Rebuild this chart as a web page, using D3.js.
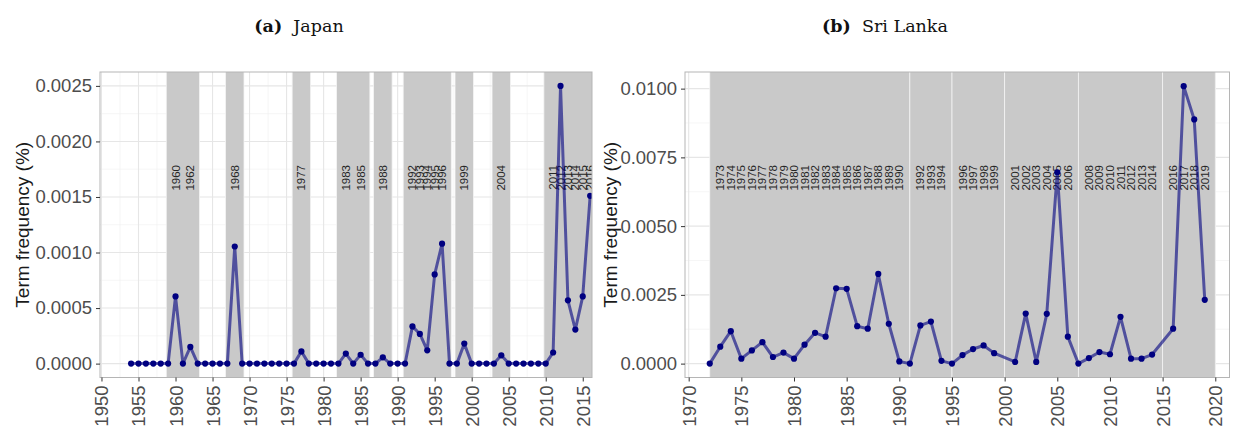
<!DOCTYPE html>
<html>
<head>
<meta charset="utf-8">
<script src="https://cdn.jsdelivr.net/npm/d3@7"></script>
<style>
  body { margin: 0; background: #fff; }
  svg { display: block; }
</style>
</head>
<body>
<div id="chart"></div>
<script>
// Japan
var japanYears = d3.range(1954, 2017);
var japanValues = [
  0, 0, 0, 0, 0, 0, 0.000605, 0, 0.00015, 0,
  0, 0, 0, 0, 0.001054, 0, 0, 0, 0, 0,
  0, 0, 0, 0.00011, 0, 0, 0, 0, 0, 0.00009,
  0, 0.00008, 0, 0, 0.000057, 0, 0, 0, 0.000335, 0.000267,
  0.00012, 0.000803, 0.00108, 0, 0, 0.00018, 0, 0, 0, 0,
  0.000075, 0, 0, 0, 0, 0, 0, 0.0001, 0.0025, 0.00057,
  0.000306, 0.000605, 0.00151
];
var japanEvents = [1960, 1962, 1968, 1977, 1983, 1985, 1988, 1992, 1993, 1994, 1995, 1996,
                   1999, 2004, 2011, 2012, 2013, 2014, 2015, 2016];
var japanXTicks = d3.range(1950, 2016, 5);
var japanYTicks = [0, 0.0005, 0.001, 0.0015, 0.002, 0.0025];

// Sri Lanka (no points for 2000 and 2015)
var lankaYears = [1972, 1973, 1974, 1975, 1976, 1977, 1978, 1979, 1980, 1981, 1982, 1983,
                  1984, 1985, 1986, 1987, 1988, 1989, 1990, 1991, 1992, 1993, 1994, 1995,
                  1996, 1997, 1998, 1999, 2001, 2002, 2003, 2004, 2005, 2006, 2007, 2008,
                  2009, 2010, 2011, 2012, 2013, 2014, 2016, 2017, 2018, 2019];
var lankaValues = [0, 0.000616, 0.00118, 0.00018, 0.00048, 0.00078, 0.00024, 0.0004, 0.00018, 0.00069,
                   0.00112, 0.00098, 0.00274, 0.00272, 0.00136, 0.00127, 0.00326, 0.00145, 0.00008, 0,
                   0.00139, 0.00153, 0.0001, 0, 0.00031, 0.00053, 0.00066, 0.00038, 0.00006, 0.00182,
                   0.00006, 0.00181, 0.00696, 0.00098, 0, 0.0002, 0.00042, 0.00034, 0.0017, 0.00018,
                   0.00018, 0.00033, 0.00127, 0.01009, 0.00888, 0.00232];
var lankaEvents = d3.range(1973, 1991).concat([1992, 1993, 1994, 1996, 1997, 1998, 1999,
                   2001, 2002, 2003, 2004, 2005, 2006, 2008, 2009, 2010, 2011, 2012, 2013, 2014,
                   2016, 2017, 2018, 2019]);
var lankaXTicks = d3.range(1970, 2021, 5);
var lankaYTicks = [0, 0.0025, 0.005, 0.0075, 0.01];

var W = 1243, H = 431;
var svg = d3.select("#chart").append("svg")
  .attr("width", W).attr("height", H)
  .style("font-family", "'Liberation Sans', Arial, sans-serif");

var panels = [
  {title: "(a)", name: "Japan", years: japanYears, values: japanValues, events: japanEvents,
   xTicks: japanXTicks, yTicks: japanYTicks, xDom: [1949.8, 2016.25], yDom: [-0.000125, 0.002625],
   pad: 1.25, x0: 100, x1: 592, y0: 72, y1: 377.5, titleX: 299, yTitleX: 22, fmt: d3.format(".4f")},
  {title: "(b)", name: "Sri Lanka", years: lankaYears, values: lankaValues, events: lankaEvents,
   xTicks: lankaXTicks, yTicks: lankaYTicks, xDom: [1969.65, 2021.35], yDom: [-0.000505, 0.010605],
   pad: 1, x0: 685, x1: 1229.5, y0: 72, y1: 377.5, titleX: 885, yTitleX: 610, fmt: d3.format(".4f")}
];

// merge overlapping event bands (touching ones stay separate)
function bandGroups(events, pad) {
  var out = [];
  events.slice().sort(d3.ascending).forEach(function(e) {
    var last = out[out.length - 1];
    if (last && e - pad < last[1]) last[1] = e + pad;
    else out.push([e - pad, e + pad]);
  });
  return out;
}

panels.forEach(function(p) {
  var x = d3.scaleLinear().domain(p.xDom).range([p.x0, p.x1]);
  var y = d3.scaleLinear().domain(p.yDom).range([p.y1, p.y0]);
  var g = svg.append("g");

  // title
  var t = g.append("text")
    .attr("x", p.titleX).attr("y", 32)
    .attr("text-anchor", "middle")
    .style("font-family", "'DejaVu Serif', serif")
    .style("font-size", "17.5px")
    .attr("fill", "#111");
  t.append("tspan").style("font-weight", "bold").text(p.title);
  t.append("tspan").text("\u00a0 " + p.name);

  var clipId = "clip-" + p.name.replace(" ", "");
  g.append("clipPath").attr("id", clipId)
    .append("rect")
    .attr("x", p.x0).attr("y", p.y0)
    .attr("width", p.x1 - p.x0).attr("height", p.y1 - p.y0);

  var inner = g.append("g").attr("clip-path", "url(#" + clipId + ")");

  // grid, minor then major
  var xMinor = p.xTicks.map(function(d) { return d + 2.5; }).concat([p.xTicks[0] - 2.5]);
  var yMinor = p.yTicks.map(function(d, i) { return i ? (d + p.yTicks[i - 1]) / 2 : null; })
                 .filter(function(d) { return d != null; });
  inner.selectAll(".xminor").data(xMinor).enter().append("line")
    .attr("x1", function(d) { return x(d); }).attr("x2", function(d) { return x(d); })
    .attr("y1", p.y0).attr("y2", p.y1)
    .attr("stroke", "#f0f0f0").attr("stroke-width", 0.6);
  inner.selectAll(".yminor").data(yMinor).enter().append("line")
    .attr("y1", function(d) { return y(d); }).attr("y2", function(d) { return y(d); })
    .attr("x1", p.x0).attr("x2", p.x1)
    .attr("stroke", "#f0f0f0").attr("stroke-width", 0.6);
  inner.selectAll(".xmajor").data(p.xTicks).enter().append("line")
    .attr("x1", function(d) { return x(d); }).attr("x2", function(d) { return x(d); })
    .attr("y1", p.y0).attr("y2", p.y1)
    .attr("stroke", "#e6e6e6").attr("stroke-width", 1.1);
  inner.selectAll(".ymajor").data(p.yTicks).enter().append("line")
    .attr("y1", function(d) { return y(d); }).attr("y2", function(d) { return y(d); })
    .attr("x1", p.x0).attr("x2", p.x1)
    .attr("stroke", "#e6e6e6").attr("stroke-width", 1.1);

  // event bands
  inner.selectAll(".band").data(bandGroups(p.events, p.pad)).enter().append("rect")
    .attr("x", function(d) { return x(d[0]); })
    .attr("width", function(d) { return x(d[1]) - x(d[0]); })
    .attr("y", p.y0 - 2).attr("height", p.y1 - p.y0 + 4)
    .attr("fill", "#c9c9c9")
    .attr("stroke", "#f4f4f4").attr("stroke-width", 0.8);

  // event labels
  inner.selectAll(".evlab").data(p.events).enter().append("text")
    .attr("transform", function(d) { return "translate(" + x(d) + "," + (p.y0 + 93) + ") rotate(-90)"; })
    .attr("dy", "0.35em")
    .attr("text-anchor", "end")
    .style("font-size", "11.5px")
    .attr("fill", "#262626")
    .text(function(d) { return d; });

  // line + points
  var pts = p.years.map(function(d, i) { return [d, p.values[i]]; });
  inner.append("path")
    .datum(pts)
    .attr("d", d3.line().x(function(d) { return x(d[0]); }).y(function(d) { return y(d[1]); }))
    .attr("fill", "none")
    .attr("stroke", "navy").attr("stroke-opacity", 0.6)
    .attr("stroke-width", 3)
    .attr("stroke-linejoin", "round");
  inner.selectAll(".pt").data(pts).enter().append("circle")
    .attr("cx", function(d) { return x(d[0]); })
    .attr("cy", function(d) { return y(d[1]); })
    .attr("r", 3.1)
    .attr("fill", "#000080");

  // border
  g.append("rect")
    .attr("x", p.x0).attr("y", p.y0)
    .attr("width", p.x1 - p.x0).attr("height", p.y1 - p.y0)
    .attr("fill", "none").attr("stroke", "#b5b5b5").attr("stroke-width", 1);

  // axes
  var xAxis = g.append("g")
    .attr("transform", "translate(0," + p.y1 + ")")
    .call(d3.axisBottom(x).tickValues(p.xTicks).tickSize(4).tickFormat(d3.format("d")));
  xAxis.select(".domain").remove();
  xAxis.selectAll("line").attr("stroke", "#333");
  xAxis.selectAll("text")
    .attr("transform", "rotate(-90)")
    .attr("x", -8).attr("y", 0).attr("dy", "0.35em")
    .attr("text-anchor", "end")
    .style("font-size", "18.5px")
    .style("font-family", "'Liberation Sans', Arial, sans-serif")
    .attr("fill", "#4d4d4d");

  var yAxis = g.append("g")
    .attr("transform", "translate(" + p.x0 + ",0)")
    .call(d3.axisLeft(y).tickValues(p.yTicks).tickSize(4).tickFormat(p.fmt));
  yAxis.select(".domain").remove();
  yAxis.selectAll("line").attr("stroke", "#333");
  yAxis.selectAll("text")
    .attr("x", -8)
    .style("font-size", "18.5px")
    .style("font-family", "'Liberation Sans', Arial, sans-serif")
    .attr("fill", "#4d4d4d");

  g.append("text")
    .attr("transform", "translate(" + p.yTitleX + "," + ((p.y0 + p.y1) / 2) + ") rotate(-90)")
    .attr("dy", "0.35em")
    .attr("text-anchor", "middle")
    .style("font-size", "19px")
    .attr("fill", "#1a1a1a")
    .text("Term frequency (%)");
});
</script>
</body>
</html>
